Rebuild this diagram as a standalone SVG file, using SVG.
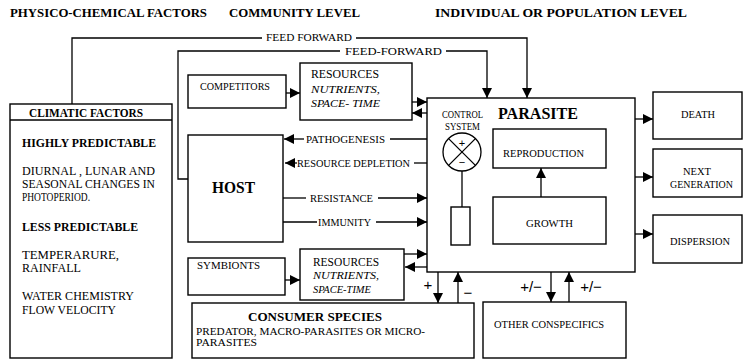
<svg xmlns="http://www.w3.org/2000/svg" width="744" height="360" viewBox="0 0 744 360" font-family="'Liberation Serif', 'Times New Roman', serif">
<style>
.bx{fill:#fff;stroke:#000;stroke-width:1.4}
.ln{fill:none;stroke:#000;stroke-width:1.3}
.ar{fill:none;stroke:#000;stroke-width:1.3;marker-end:url(#ah)}
svg text{font-family:'Liberation Serif','Times New Roman',serif;fill:#000}
svg text.sym{font-family:'Liberation Sans',Arial,sans-serif;font-size:15px}
.h{font-weight:bold;font-size:12px}
.s{font-size:10.5px}
.c{font-size:12px}
.bd{font-weight:bold}
.it{font-style:italic;font-size:11px}
</style>
<defs>
<marker id="ah" markerUnits="userSpaceOnUse" markerWidth="10" markerHeight="10" refX="10" refY="5" orient="auto">
<path d="M0,0 L10,5 L0,10 z" fill="#000"/>
</marker>
</defs>
<rect width="744" height="360" fill="#fff"/>

<g id="headers">
<text class="h" x="10" y="17" textLength="197" lengthAdjust="spacingAndGlyphs">PHYSICO-CHEMICAL FACTORS</text>
<text class="h" x="229" y="17" textLength="131" lengthAdjust="spacingAndGlyphs">COMMUNITY LEVEL</text>
<text class="h" x="435" y="17" textLength="252" lengthAdjust="spacingAndGlyphs">INDIVIDUAL OR POPULATION  LEVEL</text>
</g>

<g id="connectors">
<polyline class="ln" points="72,104 72,38 262,38"/>
<polyline class="ar" points="356,38 527,38 527,98"/>
<polyline class="ln" points="188,179 178,179 178,51 340,51"/>
<polyline class="ar" points="446,51 487,51 487,98"/>
<line class="ar" x1="286" y1="93" x2="300" y2="93"/>
<line class="ar" x1="412" y1="102" x2="427" y2="102"/>
<line class="ar" x1="427" y1="113" x2="412" y2="113"/>
<line class="ln" x1="427" y1="139" x2="390" y2="139"/>
<line class="ar" x1="304" y1="139" x2="284" y2="139"/>
<line class="ln" x1="427" y1="163" x2="414" y2="163"/>
<line class="ar" x1="297" y1="163" x2="285" y2="163"/>
<line class="ln" x1="283" y1="198" x2="306" y2="198"/>
<line class="ar" x1="378" y1="198" x2="427" y2="198"/>
<line class="ln" x1="283" y1="222" x2="317" y2="222"/>
<line class="ar" x1="376" y1="222" x2="427" y2="222"/>
<line class="ar" x1="285" y1="280" x2="300" y2="280"/>
<line class="ar" x1="404" y1="254" x2="427" y2="254"/>
<line class="ar" x1="427" y1="267" x2="405" y2="267"/>
<line class="ar" x1="438" y1="272" x2="438" y2="303"/>
<line class="ar" x1="458" y1="303" x2="458" y2="272"/>
<line class="ar" x1="551" y1="272" x2="551" y2="302"/>
<line class="ar" x1="569" y1="302" x2="569" y2="272"/>
<line class="ar" x1="635" y1="119" x2="653" y2="119"/>
<line class="ar" x1="635" y1="177" x2="653" y2="177"/>
<line class="ar" x1="635" y1="234" x2="653" y2="234"/>
<text x="266" y="41" font-size="10" textLength="86" lengthAdjust="spacingAndGlyphs">FEED FORWARD</text>
<text x="345" y="55" font-size="10" textLength="97" lengthAdjust="spacingAndGlyphs">FEED-FORWARD</text>
<text class="s" x="306" y="143" textLength="79" lengthAdjust="spacingAndGlyphs">PATHOGENESIS</text>
<text class="s" x="297" y="167" textLength="113" lengthAdjust="spacingAndGlyphs">RESOURCE DEPLETION</text>
<text class="s" x="310" y="202" textLength="63" lengthAdjust="spacingAndGlyphs">RESISTANCE</text>
<text class="s" x="318" y="226" textLength="53" lengthAdjust="spacingAndGlyphs">IMMUNITY</text>
<text class="sym" x="428" y="290" text-anchor="middle">+</text>
<text class="sym" x="468" y="298" text-anchor="middle">−</text>
<text class="sym" x="531" y="292" text-anchor="middle">+/−</text>
<text class="sym" x="591" y="292" text-anchor="middle">+/−</text>
</g>

<g id="climatic">
<rect class="bx" x="10" y="104" width="162" height="254"/>
<line class="ln" x1="10" y1="120" x2="172" y2="120"/>
<text class="c bd" x="29" y="117" textLength="114" lengthAdjust="spacingAndGlyphs">CLIMATIC FACTORS</text>
<text class="c bd" x="22" y="147" textLength="134" lengthAdjust="spacingAndGlyphs">HIGHLY PREDICTABLE</text>
<text class="c" x="22" y="175" textLength="133" lengthAdjust="spacingAndGlyphs">DIURNAL , LUNAR  AND</text>
<text class="c" x="22" y="188" textLength="133" lengthAdjust="spacingAndGlyphs">SEASONAL CHANGES IN</text>
<text class="c" x="22" y="201" textLength="68" lengthAdjust="spacingAndGlyphs">PHOTOPERIOD.</text>
<text class="c bd" x="22" y="231" textLength="116" lengthAdjust="spacingAndGlyphs">LESS PREDICTABLE</text>
<text class="c" x="22" y="259" textLength="97" lengthAdjust="spacingAndGlyphs">TEMPERARURE,</text>
<text class="c" x="22" y="272" textLength="59" lengthAdjust="spacingAndGlyphs">RAINFALL</text>
<text class="c" x="22" y="300" textLength="112" lengthAdjust="spacingAndGlyphs">WATER CHEMISTRY</text>
<text class="c" x="22" y="314" textLength="94" lengthAdjust="spacingAndGlyphs">FLOW VELOCITY</text>
</g>

<g id="competitors">
<rect class="bx" x="188" y="75" width="98" height="33"/>
<text class="s" x="200" y="90" textLength="70" lengthAdjust="spacingAndGlyphs">COMPETITORS</text>
</g>

<g id="resources1">
<rect class="bx" x="300" y="63" width="112" height="57"/>
<text class="c" x="311" y="78" textLength="68" lengthAdjust="spacingAndGlyphs">RESOURCES</text>
<text class="it" x="311" y="93" textLength="69" lengthAdjust="spacingAndGlyphs">NUTRIENTS,</text>
<text class="it" x="311" y="107" textLength="69" lengthAdjust="spacingAndGlyphs">SPACE- TIME</text>
</g>

<g id="host">
<rect class="bx" x="188" y="135" width="95" height="107"/>
<text class="bd" x="212" y="193" font-size="17" textLength="43" lengthAdjust="spacingAndGlyphs">HOST</text>
</g>

<g id="symbionts">
<rect class="bx" x="188" y="258" width="97" height="37"/>
<text class="s" x="197" y="269" textLength="63" lengthAdjust="spacingAndGlyphs">SYMBIONTS</text>
</g>

<g id="resources2">
<rect class="bx" x="300" y="249" width="104" height="51"/>
<text class="c" x="313" y="266" textLength="66" lengthAdjust="spacingAndGlyphs">RESOURCES</text>
<text class="it" x="313" y="279" textLength="66" lengthAdjust="spacingAndGlyphs">NUTRIENTS,</text>
<text class="it" x="313" y="293" textLength="58" lengthAdjust="spacingAndGlyphs">SPACE-TIME</text>
</g>

<g id="consumer">
<rect class="bx" x="192" y="303" width="282" height="55"/>
<text class="bd" x="248" y="321" font-size="13" textLength="134" lengthAdjust="spacingAndGlyphs">CONSUMER SPECIES</text>
<text class="s" x="196" y="335" textLength="229" lengthAdjust="spacingAndGlyphs">PREDATOR, MACRO-PARASITES OR   MICRO-</text>
<text class="s" x="196" y="346" textLength="61" lengthAdjust="spacingAndGlyphs">PARASITES</text>
</g>

<g id="conspecifics">
<rect class="bx" x="483" y="302" width="143" height="56"/>
<text class="s" x="494" y="328" textLength="110" lengthAdjust="spacingAndGlyphs">OTHER CONSPECIFICS</text>
</g>

<g id="parasite">
<rect class="bx" x="427" y="98" width="208" height="174"/>
<text class="bd" x="498" y="119" font-size="17" textLength="80" lengthAdjust="spacingAndGlyphs">PARASITE</text>
<text x="442" y="118" font-size="9.5" textLength="41" lengthAdjust="spacingAndGlyphs">CONTROL</text>
<text x="445" y="130" font-size="9.5" textLength="35" lengthAdjust="spacingAndGlyphs">SYSTEM</text>
<circle class="ln" cx="462" cy="152" r="19"/>
<line class="ln" x1="448.6" y1="138.6" x2="475.4" y2="165.4"/>
<line class="ln" x1="475.4" y1="138.6" x2="448.6" y2="165.4"/>
<text class="sym" x="462" y="147" style="font-size:11px" text-anchor="middle">+</text>
<text class="sym" x="462" y="166" style="font-size:11px" text-anchor="middle">−</text>
<line class="ln" x1="462" y1="171" x2="462" y2="207"/>
<rect class="bx" x="451" y="207" width="19" height="38"/>
</g>

<g id="reproduction">
<rect class="bx" x="493" y="129" width="113" height="39"/>
<text class="s" x="503" y="157" textLength="81" lengthAdjust="spacingAndGlyphs">REPRODUCTION</text>
</g>

<g id="growth">
<rect class="bx" x="493" y="197" width="113" height="47"/>
<text class="s" x="526" y="227" textLength="47" lengthAdjust="spacingAndGlyphs">GROWTH</text>
<line class="ar" x1="541" y1="197" x2="541" y2="168"/>
</g>

<g id="death">
<rect class="bx" x="653" y="92" width="89" height="47"/>
<text class="s" x="681" y="118" textLength="34" lengthAdjust="spacingAndGlyphs">DEATH</text>
</g>

<g id="nextgen">
<rect class="bx" x="653" y="149" width="89" height="48"/>
<text class="s" x="697" y="175" text-anchor="middle">NEXT</text>
<text class="s" x="670" y="188" textLength="63" lengthAdjust="spacingAndGlyphs">GENERATION</text>
</g>

<g id="dispersion">
<rect class="bx" x="653" y="215" width="89" height="48"/>
<text class="s" x="670" y="245" textLength="60" lengthAdjust="spacingAndGlyphs">DISPERSION</text>
</g>
</svg>
